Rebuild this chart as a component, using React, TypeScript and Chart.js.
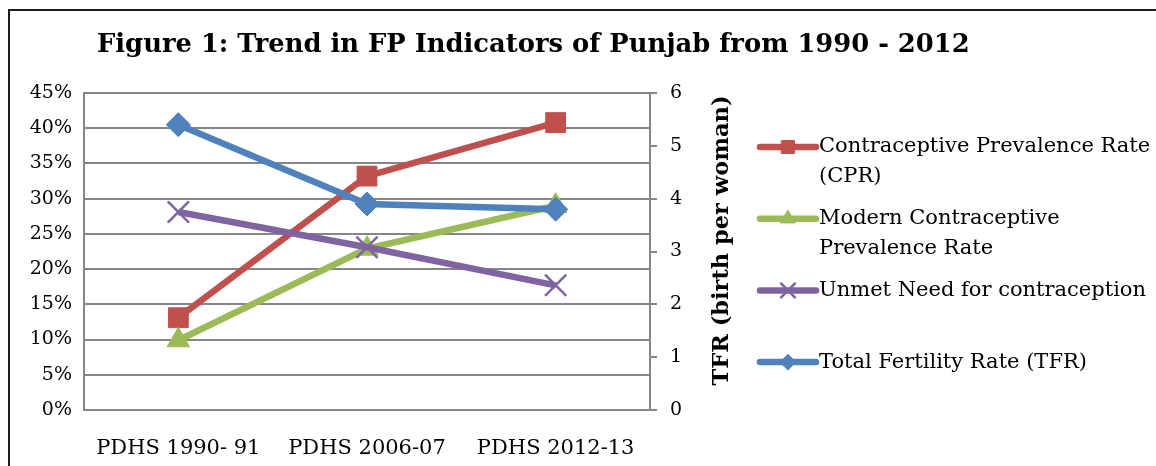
import React, { useEffect, useRef } from "react";
import { Chart, registerables } from "chart.js";
import { drawPoint } from "chart.js/helpers";

Chart.register(...registerables);

const titleText = "Figure 1: Trend in FP Indicators of Punjab from 1990 - 2012";
const rightAxisTitle = "TFR (birth per woman)";
const categories = ["PDHS 1990- 91", "PDHS 2006-07", "PDHS 2012-13"];
const cpr = [13.1, 33.2, 40.8];
const modernCpr = [9.9, 22.9, 29.0];
const unmetNeed = [28.1, 23.1, 17.7];
const tfr = [5.4, 3.9, 3.8];
const legendLabels = [
  ["Contraceptive Prevalence Rate", "(CPR)"],
  ["Modern Contraceptive", "Prevalence Rate"],
  ["Unmet Need for contraception"],
  ["Total Fertility Rate (TFR)"],
];

const RED = "#C0504D";
const GREEN = "#9BBB59";
const PURPLE = "#8064A2";
const BLUE = "#4F81BD";
const GRID = "#868686";
const FONT = '"DejaVu Serif", serif';

const overlayPlugin = {
  id: "overlay",
  afterDraw(chart: any) {
    const ctx = chart.ctx;
    const area = chart.chartArea;
    ctx.save();
    ctx.fillStyle = "#000";
    ctx.textBaseline = "middle";
    ctx.textAlign = "left";
    ctx.font = `bold 25.8px ${FONT}`;
    ctx.fillText(titleText, 97, 45);

    ctx.save();
    ctx.translate(722, (area.top + area.bottom) / 2 - 11);
    ctx.rotate(-Math.PI / 2);
    ctx.textAlign = "center";
    ctx.font = `bold 22.5px ${FONT}`;
    ctx.fillText(rightAxisTitle, 0, 0);
    ctx.restore();

    const x0 = 760;
    const x1 = 816;
    const textX = 819;
    const firstY = 147;
    const step = 71.7;
    chart.data.datasets.forEach((ds: any, i: number) => {
      const y = firstY + i * step;
      ctx.strokeStyle = ds.borderColor;
      ctx.lineWidth = 6.5;
      ctx.lineCap = "round";
      ctx.beginPath();
      ctx.moveTo(x0, y);
      ctx.lineTo(x1, y);
      ctx.stroke();
      ctx.fillStyle = ds.pointBackgroundColor;
      ctx.strokeStyle = ds.pointBorderColor;
      ctx.lineWidth = ds.pointBorderWidth;
      drawPoint(
        ctx,
        {
          pointStyle: ds.pointStyle,
          radius: ds.pointRadius * 0.65,
          rotation: 0,
          borderWidth: ds.pointBorderWidth,
        } as any,
        (x0 + x1) / 2,
        y
      );
      ctx.fillStyle = "#000";
      ctx.font = `21px ${FONT}`;
      ctx.textAlign = "left";
      ctx.textBaseline = "middle";
      legendLabels[i].forEach((line, j) => {
        ctx.fillText(line, textX, y + j * 30);
      });
    });
    ctx.restore();
  },
};

export default function App() {
  const canvasRef = useRef<HTMLCanvasElement | null>(null);

  useEffect(() => {
    if (!canvasRef.current) return;
    Chart.defaults.font.family = FONT;
    const chart = new Chart(canvasRef.current, {
      type: "line",
      data: {
        labels: categories,
        datasets: [
          {
            label: legendLabels[0].join(" "),
            data: cpr,
            yAxisID: "y",
            borderColor: RED,
            backgroundColor: RED,
            pointBackgroundColor: RED,
            pointBorderColor: RED,
            pointStyle: "rect",
            pointRadius: 14,
            pointBorderWidth: 1,
            borderWidth: 6.5,
            order: 3,
          },
          {
            label: legendLabels[1].join(" "),
            data: modernCpr,
            yAxisID: "y",
            borderColor: GREEN,
            backgroundColor: GREEN,
            pointBackgroundColor: GREEN,
            pointBorderColor: GREEN,
            pointStyle: "triangle",
            pointRadius: 13,
            pointBorderWidth: 1,
            borderWidth: 6.5,
            order: 2,
          },
          {
            label: legendLabels[2].join(" "),
            data: unmetNeed,
            yAxisID: "y",
            borderColor: PURPLE,
            backgroundColor: PURPLE,
            pointBackgroundColor: PURPLE,
            pointBorderColor: PURPLE,
            pointStyle: "crossRot",
            pointRadius: 15,
            pointBorderWidth: 2.5,
            borderWidth: 6.5,
            order: 1,
          },
          {
            label: legendLabels[3].join(" "),
            data: tfr,
            yAxisID: "y1",
            borderColor: BLUE,
            backgroundColor: BLUE,
            pointBackgroundColor: BLUE,
            pointBorderColor: BLUE,
            pointStyle: "rectRot",
            pointRadius: 12,
            pointBorderWidth: 1,
            borderWidth: 6.5,
            order: 0,
          },
        ],
      },
      options: {
        animation: false,
        responsive: true,
        maintainAspectRatio: false,
        layout: { padding: { top: 93, left: 0, right: 446, bottom: 0 } },
        plugins: {
          legend: { display: false },
          title: { display: false },
          tooltip: { enabled: false },
        },
        scales: {
          x: {
            type: "category",
            offset: true,
            grid: { display: false },
            border: { display: true, color: GRID, width: 2 },
            ticks: { color: "#000", font: { size: 21, family: FONT }, padding: 18, maxRotation: 0 },
            afterFit: (s: any) => {
              s.height = 56;
            },
          },
          y: {
            position: "left",
            min: 0,
            max: 45,
            ticks: {
              stepSize: 5,
              color: "#000",
              font: { size: 19, family: FONT },
              padding: 12,
              callback: (v: any) => `${v}%`,
            },
            grid: { color: GRID, lineWidth: 2, drawTicks: false },
            border: { display: true, color: GRID, width: 2 },
            afterFit: (s: any) => {
              s.width = 84;
            },
          },
          y1: {
            position: "right",
            min: 0,
            max: 6,
            ticks: {
              stepSize: 1,
              color: "#000",
              font: { size: 19, family: FONT },
              padding: 13,
            },
            grid: { drawOnChartArea: false, color: GRID, lineWidth: 2, tickLength: 7 },
            border: { display: true, color: GRID, width: 2 },
            afterFit: (s: any) => {
              s.width = 60;
            },
          },
        },
      },
      plugins: [overlayPlugin],
    });
    return () => chart.destroy();
  }, []);

  return (
    <div
      style={{
        position: "fixed",
        left: 0,
        top: 0,
        width: 1156,
        height: 466,
        overflow: "hidden",
        background: "#fff",
      }}
    >
      <div
        style={{
          position: "absolute",
          left: 8,
          top: 9,
          width: 3000,
          height: 3000,
          borderTop: "2px solid #1e1e1e",
          borderLeft: "2px solid #1e1e1e",
        }}
      />
      <div style={{ position: "absolute", left: 0, top: 0, width: 1156, height: 466 }}>
        <canvas ref={canvasRef} />
      </div>
    </div>
  );
}
